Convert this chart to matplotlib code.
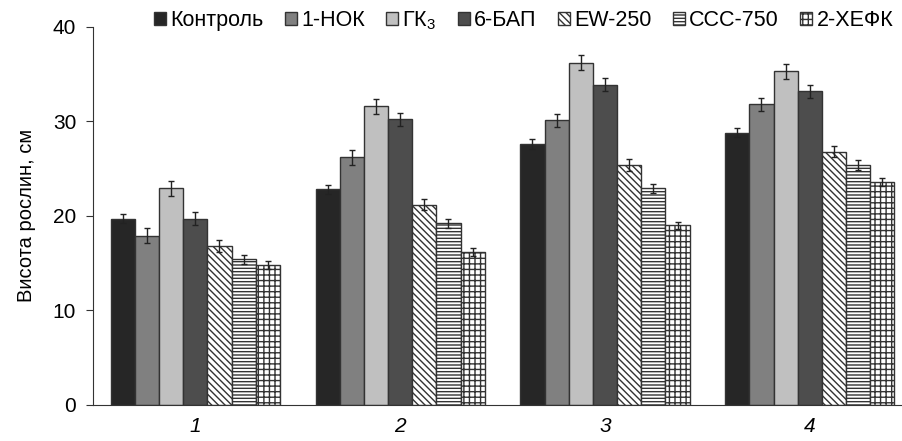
import numpy as np
import matplotlib
matplotlib.use("Agg")
from matplotlib import pyplot as plt

plt.rcParams['font.family'] = ['Liberation Sans', 'DejaVu Sans']
plt.rcParams['mathtext.fontset'] = 'custom'
plt.rcParams['mathtext.rm'] = 'Liberation Sans'
plt.rcParams['mathtext.it'] = 'Liberation Sans:italic'
plt.rcParams['hatch.linewidth'] = 1.0

# data
groups = ['1', '2', '3', '4']
series = ['Контроль', '1-НОК', 'ГК$_3$', '6-БАП', 'EW-250', 'ССС-750', '2-ХЕФК']

control = [19.7, 22.8, 27.6, 28.8]
nok = [17.9, 26.2, 30.1, 31.8]
gk3 = [22.9, 31.6, 36.2, 35.3]
bap = [19.7, 30.2, 33.9, 33.2]
ew250 = [16.8, 21.2, 25.4, 26.8]
ccc750 = [15.4, 19.2, 22.9, 25.4]
hefk = [14.8, 16.2, 19.0, 23.6]

err_control = [0.5, 0.5, 0.5, 0.5]
err_nok = [0.8, 0.8, 0.7, 0.7]
err_gk3 = [0.8, 0.8, 0.8, 0.8]
err_bap = [0.7, 0.7, 0.7, 0.7]
err_ew250 = [0.6, 0.6, 0.6, 0.6]
err_ccc750 = [0.5, 0.5, 0.5, 0.5]
err_hefk = [0.4, 0.4, 0.4, 0.4]

values = [control, nok, gk3, bap, ew250, ccc750, hefk]
errors = [err_control, err_nok, err_gk3, err_bap, err_ew250, err_ccc750, err_hefk]

# styles
colors = ['#262626', '#808080', '#c0c0c0', '#4d4d4d', 'white', 'white', 'white']
hatches = [None, None, None, None, '\\\\\\\\\\', '-----', '+++']

fig = plt.figure(figsize=(9.02, 4.41), dpi=100)
ax = fig.add_axes([0.103, 0.082, 0.897, 0.857])

x = np.arange(len(groups))
w = 0.118
for i in range(len(series)):
    pos = x + (i - 3) * w
    ax.bar(pos, values[i], w, color=colors[i], edgecolor='#333333', linewidth=1.0,
           hatch=hatches[i], label=series[i], zorder=2)
    ax.errorbar(pos, values[i], yerr=errors[i], fmt='none', ecolor='#222222',
                elinewidth=1.0, capsize=2.5, capthick=1.0, zorder=3)

ax.set_xlim(-0.5, 3.45)
ax.set_ylim(0, 40)
ax.set_yticks([0, 10, 20, 30, 40])
ax.set_xticks(x)
ax.set_xticklabels(groups, style='italic')
ax.tick_params(axis='y', labelsize=15, length=5, color='#333333', pad=7)
ax.tick_params(axis='x', labelsize=15, length=0, pad=9)
ax.spines['top'].set_visible(False)
ax.spines['right'].set_visible(False)
ax.spines['left'].set_color('#333333')
ax.spines['bottom'].set_color('#333333')
ax.set_ylabel('Висота рослин, см', fontsize=14.5, labelpad=12)

ax.legend(loc='upper right', bbox_to_anchor=(1.0, 1.07), ncol=7, frameon=False,
          fontsize=15.5, handlelength=0.55, handleheight=0.55, handletextpad=0.2,
          columnspacing=1.0, borderaxespad=0)

fig.savefig('out.png', dpi=100)
